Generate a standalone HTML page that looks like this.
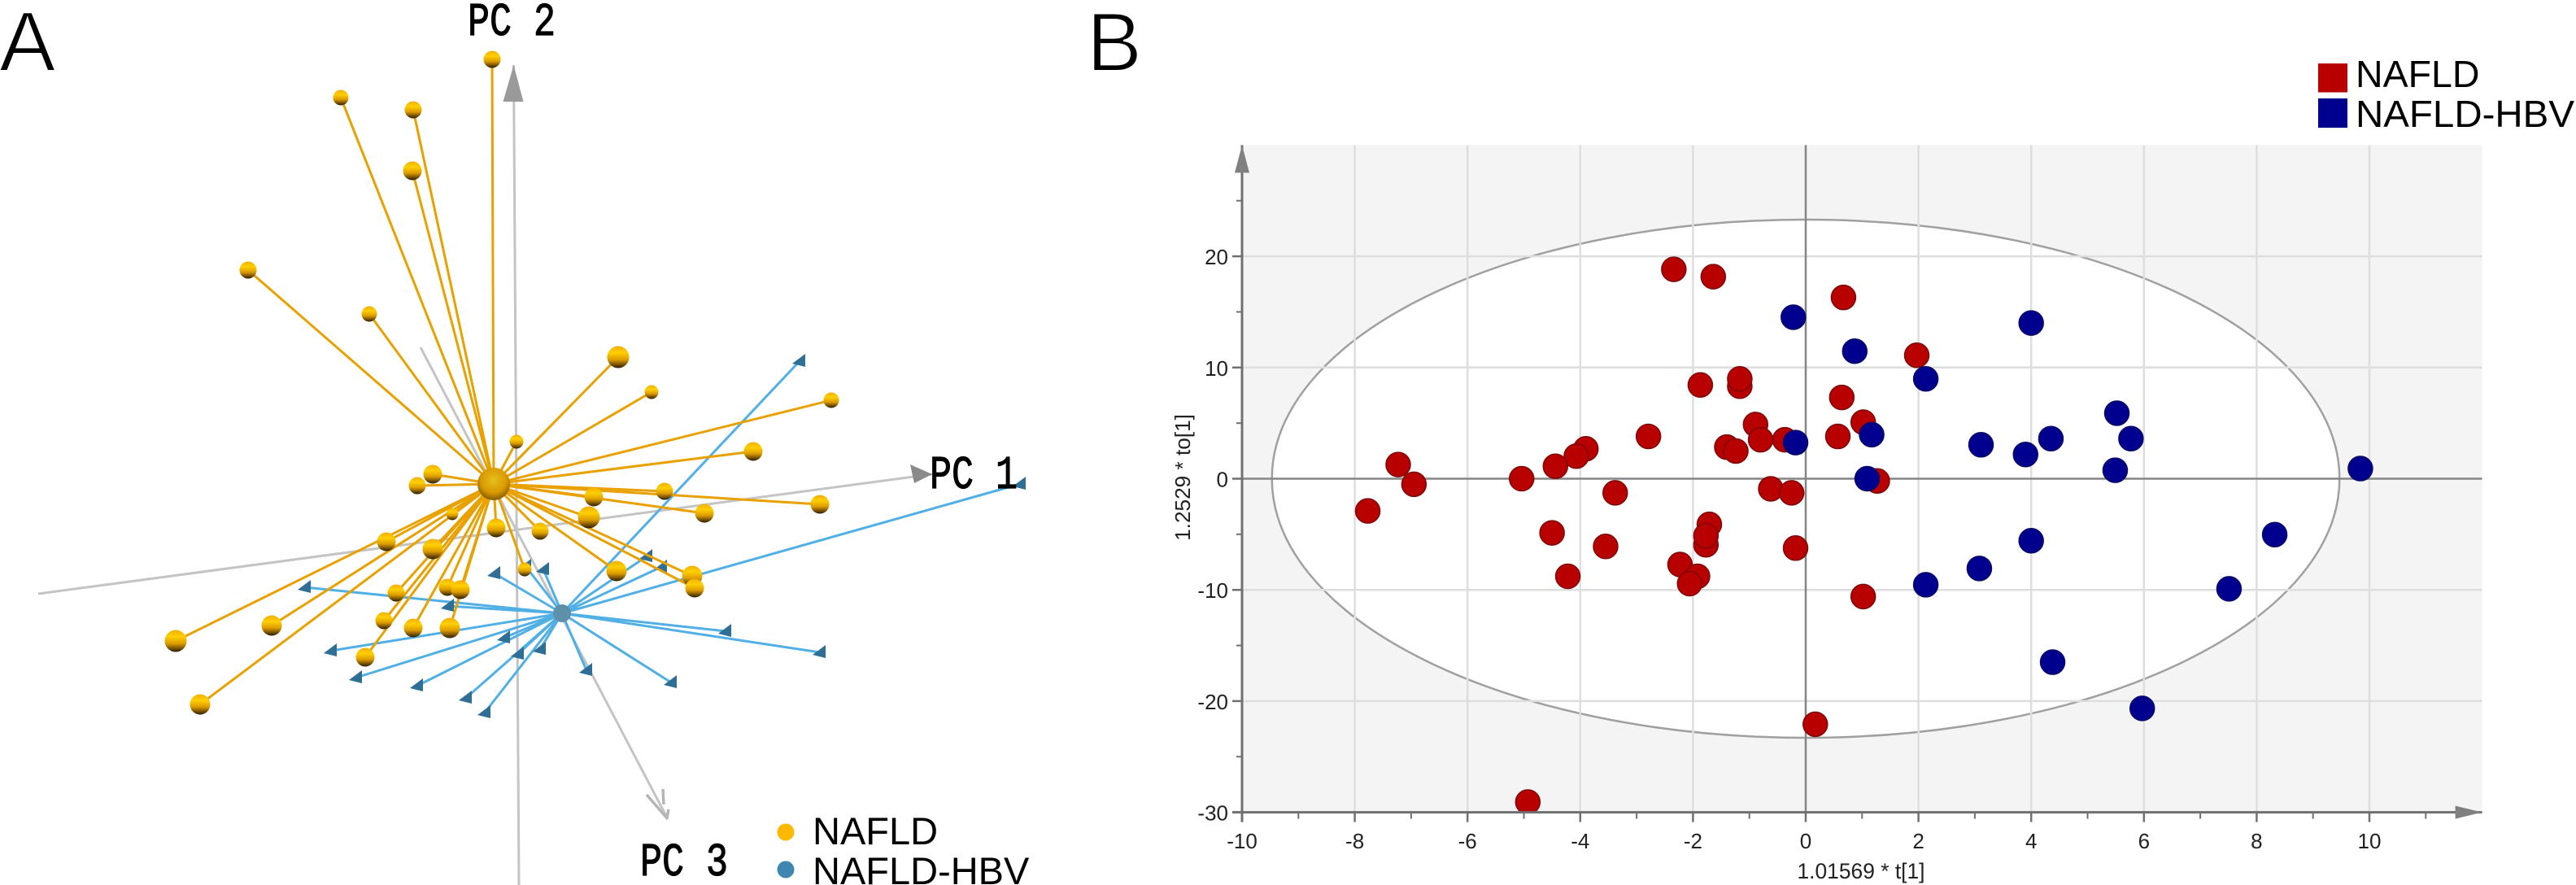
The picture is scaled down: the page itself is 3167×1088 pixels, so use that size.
<!DOCTYPE html>
<html lang="en">
<head>
<meta charset="utf-8">
<title>PCA and OPLS-DA score plots: NAFLD vs NAFLD-HBV</title>
<style>
  html, body { margin: 0; padding: 0; background: #fff; }
  svg { display: block; font-family: "Liberation Sans", sans-serif; }
</style>
</head>
<body>
<svg id="figure" xmlns="http://www.w3.org/2000/svg" width="3167" height="1088" viewBox="0 0 3167 1088">
  <defs>
    <linearGradient id="sphere" x1="0" y1="0" x2="0" y2="1">
      <stop offset="0" stop-color="#f2ae00"/>
      <stop offset="0.3" stop-color="#ffd000"/>
      <stop offset="0.62" stop-color="#dd9c00"/>
      <stop offset="1" stop-color="#2c1c00"/>
    </linearGradient>
    <radialGradient id="centroid" cx="0.5" cy="0.38" r="0.65">
      <stop offset="0" stop-color="#e8be20"/>
      <stop offset="0.6" stop-color="#d99a00"/>
      <stop offset="1" stop-color="#7a5200"/>
    </radialGradient>
    <clipPath id="plot-clip"><rect x="1527" y="179" width="1523" height="819"/></clipPath>
  </defs>

  <text x="-1" y="87" font-size="104" fill="#000" stroke="#fff" stroke-width="2">A</text>
  <text x="1336" y="87" font-size="102" fill="#000" stroke="#fff" stroke-width="2">B</text>

  <g id="panel-a"></g>
  <g id="panel-b"></g>

  <g font-family="'Liberation Mono', monospace" fill="#000" stroke="#000" stroke-width="0.9" font-size="45">
    <text transform="translate(575,43) scale(1,1.27)">PC 2</text>
    <text transform="translate(1143,600) scale(1,1.27)">PC 1</text>
    <text transform="translate(787,1076) scale(1,1.27)">PC 3</text>
  </g>

  <g font-size="47" fill="#000">
    <ellipse cx="966" cy="1023" rx="10.5" ry="10.5" fill="#fdb900"/>
    <text x="999" y="1038">NAFLD</text>
    <ellipse cx="966" cy="1069" rx="10.5" ry="10.5" fill="#3f86b0"/>
    <text x="999" y="1087">NAFLD-HBV</text>
  </g>

  <g font-size="46.5" fill="#000">
    <rect x="2850" y="78" width="36" height="35.5" fill="#b80000"/>
    <text x="2896" y="107">NAFLD</text>
    <rect x="2850" y="121" width="36" height="36" fill="#00008f"/>
    <text x="2896" y="156" textLength="269" lengthAdjust="spacingAndGlyphs">NAFLD-HBV</text>
  </g>
</svg>

<script>
// ---- Panel A: projected PCA scores (projected units) ----
const nafldPc1 = [-0.2,-18.8,-9.9,-10,-30.2,-15.3,15.3,19.4,41.5,2.8,31.9,-7.5,-9.4,21,12.3,40.1,25.9,11.7,0.3,5.7,-5.1,-13.2,-7.5,3.8,15.1,24.4,24.7,-12,-5.7,-4.1,-13.5,-9.9,-5.4,-27.3,-39.1,-15.8,-36.1];
const nafldPc2 = [52.2,47.5,46,38.5,26.3,20.9,15.6,11.3,10.3,5.2,4,1.2,-0.2,-0.9,-1.6,-2.5,-3.6,-4.1,-5.4,-5.8,-3.7,-7.1,-8,-10.5,-10.7,-11.3,-12.8,-13.4,-12.7,-13,-16.8,-17.7,-17.7,-17.4,-19.3,-21.3,-27.1];
const nafldDepth = [0,-1,0,1,0,-1,3,-2,-1,-2,1,1,0,0,1,1,1,3,1,0,-3,1,2,-2,2,2,1,0,0,1,0,1,2,2,3,1,2];
const hbvPc1 = [37.6,64.7,18.8,20.6,6.1,3.9,0.1,-23.2,-5.6,28.5,40.1,-20,1.3,3,5.7,11.4,21.8,-16.9,-9.4,-3.4,-1.1];
const hbvPc2 = [15.1,0,-8.9,-10.2,-10.5,-10.1,-11,-12.7,-15,-18.1,-20.7,-20.5,-18.9,-20.9,-20.3,-22.9,-24.4,-23.8,-24.8,-26.3,-28.1];
const nafldCentroid = [0, 0];
const hbvCentroid = [8.4, -15.9];
const pc1Axis = [[-56, -13.5], [53.9, 1.2]];
const pc2Axis = [[2.45, 51.5], [3.1, -49.3]];
const pc3Axis = [[-9, 16.8], [21.4, -41.2]];

// ---- Panel B: OPLS-DA scores ----
const nafldT = [-2.34,-1.64,0.67,1.97,-1.17,-1.17,-1.87,0.64,-0.89,1.02,-0.8,-0.37,0.57,-2.79,-1.4,-1.24,-3.9,-4.07,-4.44,-7.23,-6.95,-5.04,-7.77,-3.38,-0.62,-0.25,1.27,-1.71,-1.77,-1.77,-4.5,-3.55,-0.18,-4.22,-2.23,-1.92,-2.06,1.02,0.17,-4.93];
const nafldTo = [18.83,18.17,16.3,11.1,8.32,8.98,8.43,7.31,4.87,5.08,3.5,3.5,3.8,3.8,2.84,2.49,2.69,2.03,1.12,1.27,-0.5,0,-2.9,-1.27,-0.91,-1.27,-0.2,-4.11,-5.94,-5.13,-4.87,-6.09,-6.24,-8.78,-7.72,-8.78,-9.44,-10.6,-22.08,-29.08];
const hbvT = [-0.22,4.0,0.87,2.13,5.52,-0.18,1.17,3.11,3.9,4.35,5.77,5.49,9.84,1.09,8.32,4.0,3.08,2.13,7.51,4.38,5.97];
const hbvTo = [14.52,14.0,11.47,8.98,5.89,3.25,3.96,3.05,2.18,3.6,3.6,0.76,0.91,0,-5.03,-5.58,-8.07,-9.54,-9.9,-16.5,-20.66];
const xMajorTicks = [-10,-8,-6,-4,-2,0,2,4,6,8,10];
const xMinorTicks = [-9,-7,-5,-3,-1,1,3,5,7,9,11];
const yMajorTicks = [-30,-20,-10,0,10,20];
const yMinorTicks = [-25,-15,-5,5,15,25];
const ellipseRadii = [9.47, 23.3];

const NS = 'http://www.w3.org/2000/svg';
function add(parent, tag, attrs, text) {
  const el = document.createElementNS(NS, tag);
  for (const k in attrs) el.setAttribute(k, attrs[k]);
  if (text !== undefined) el.textContent = text;
  parent.appendChild(el);
  return el;
}

// Panel A axis functions
const ax = u => 607 + u * 10;
const ay = v => 595 - v * 10;

// Panel B axis functions
const bx = t => 2220 + t * 69.3;
const by = o => 588.5 - o * 13.67;

function drawPanelA() {
  const g = document.getElementById('panel-a');

  const axes = [[pc1Axis, 'pc1-axis'], [pc2Axis, 'pc2-axis'], [pc3Axis, 'pc3-axis']];
  axes.forEach(function (a) {
    const l = add(g, 'line', { x1: ax(a[0][0][0]), y1: ay(a[0][0][1]), x2: ax(a[0][1][0]), y2: ay(a[0][1][1]), stroke: '#c4c4c4', 'stroke-width': 3 });
    
    
  });

  // arrowheads anchored on axis ends
  const p2x = ax(pc2Axis[0][0]), p2y = ay(pc2Axis[0][1]);
  const h2 = add(g, 'path', { d: `M${p2x},${p2y} L${p2x + 12},${p2y + 45} L${p2x - 13},${p2y + 45} Z`, fill: '#9a9a9a' });
  
  
  const p1x = ax(pc1Axis[1][0]), p1y = ay(pc1Axis[1][1]);
  const h1 = add(g, 'path', { d: `M${p1x},${p1y} L${p1x - 27},${p1y - 12} L${p1x - 22},${p1y + 11} Z`, fill: '#8a8a8a' });
  
  
  const p3x = ax(pc3Axis[1][0]), p3y = ay(pc3Axis[1][1]);
  const h3 = add(g, 'path', { d: `M${p3x - 26},${p3y - 30} L${p3x},${p3y} M${p3x - 6},${p3y - 37} L${p3x - 5},${p3y - 18} M${p3x + 1},${p3y - 12} L${p3x - 1},${p3y - 2}`, fill: 'none', stroke: '#b5b5b5', 'stroke-width': 3.5 });
  
  

  const cx2 = ax(hbvCentroid[0]), cy2 = ay(hbvCentroid[1]);
  hbvPc1.forEach(function (u, i) {
    const l = add(g, 'line', { x1: cx2, y1: cy2, x2: ax(u), y2: ay(hbvPc2[i]), stroke: '#50b0e6', 'stroke-width': 3 });
    
    
  });
  hbvPc1.forEach(function (u, i) {
    const x = ax(u), y = ay(hbvPc2[i]);
    const pts = [[x - 9, y + 3], [x + 7, y - 9], [x + 7, y + 7]].map(p => p.join(',')).join(' ');
    const m = add(g, 'polygon', { points: pts, fill: '#2f6f96' });
    
    
  });
  const hc = add(g, 'circle', { cx: cx2, cy: cy2, r: 11, fill: '#5e90aa' });
  
  

  const cx1 = ax(nafldCentroid[0]), cy1 = ay(nafldCentroid[1]);
  nafldPc1.forEach(function (u, i) {
    const l = add(g, 'line', { x1: cx1, y1: cy1, x2: ax(u), y2: ay(nafldPc2[i]), stroke: '#e9a100', 'stroke-width': 3 });
    
    
  });
  nafldPc1.forEach(function (u, i) {
    const m = add(g, 'circle', { cx: ax(u), cy: ay(nafldPc2[i]), r: 10.5 + nafldDepth[i], fill: 'url(#sphere)' });
    
    
  });
  const oc = add(g, 'circle', { cx: cx1, cy: cy1, r: 20, fill: 'url(#centroid)' });
  
  
}

function drawPanelB() {
  const g = document.getElementById('panel-b');
  const left = bx(-10), right = bx(12), top = by(30), bottom = by(-30);

  const bg = add(g, 'rect', { x: left, y: top, width: right - left, height: bottom - top, fill: '#f4f4f4' });
  
  

  const ell = add(g, 'ellipse', { cx: bx(0), cy: by(0), rx: ellipseRadii[0] * 69.3, ry: ellipseRadii[1] * 13.67, fill: '#fff', stroke: '#a0a0a0', 'stroke-width': 2.5 });
  
  

  xMajorTicks.forEach(function (t) {
    if (t === -10 || t === 0) return;
    const l = add(g, 'line', { x1: bx(t), y1: top, x2: bx(t), y2: bottom, stroke: '#dedede', 'stroke-width': 2.5 });
    
    
  });
  yMajorTicks.forEach(function (o) {
    if (o === -30 || o === 0) return;
    const l = add(g, 'line', { x1: left, y1: by(o), x2: right, y2: by(o), stroke: '#dedede', 'stroke-width': 2.5 });
    
    
  });

  const z1 = add(g, 'line', { x1: bx(0), y1: top, x2: bx(0), y2: bottom, stroke: '#858585', 'stroke-width': 2.5 });
  
  
  const z2 = add(g, 'line', { x1: left, y1: by(0), x2: right, y2: by(0), stroke: '#858585', 'stroke-width': 2.5 });
  
  

  const marks = add(g, 'g', { 'clip-path': 'url(#plot-clip)' });
  
  
  nafldT.forEach(function (t, i) {
    const c = add(marks, 'circle', { cx: bx(t), cy: by(nafldTo[i]), r: 15, fill: '#b80000', stroke: '#7d0a0a', 'stroke-width': 1.5 });
    
    
  });
  hbvT.forEach(function (t, i) {
    const c = add(marks, 'circle', { cx: bx(t), cy: by(hbvTo[i]), r: 15, fill: '#00008f', stroke: '#0a0a66', 'stroke-width': 1.5 });
    
    
  });

  const yAxis = add(g, 'line', { x1: left, y1: top, x2: left, y2: bottom + 12, stroke: '#707070', 'stroke-width': 3 });
  
  
  const xAxis = add(g, 'line', { x1: left - 12, y1: bottom, x2: right, y2: bottom, stroke: '#707070', 'stroke-width': 3 });
  
  
  const ya = add(g, 'path', { d: `M${left},${top} L${left + 9},${top + 34} L${left - 9},${top + 34} Z`, fill: '#808080' });
  
  
  const xa = add(g, 'path', { d: `M${right},${bottom} L${right - 33},${bottom - 8} L${right - 33},${bottom + 8} Z`, fill: '#808080' });
  
  

  xMajorTicks.forEach(function (t) {
    const k = add(g, 'line', { x1: bx(t), y1: bottom, x2: bx(t), y2: bottom + 12, stroke: '#707070', 'stroke-width': 2.5 });
    
    
    const lab = add(g, 'text', { x: bx(t), y: 1043, 'text-anchor': 'middle', 'font-size': 26, fill: '#222' }, String(t));
    
    
  });
  xMinorTicks.forEach(function (t) {
    const k = add(g, 'line', { x1: bx(t), y1: bottom, x2: bx(t), y2: bottom + 8, stroke: '#707070', 'stroke-width': 2 });
    
    
  });
  yMajorTicks.forEach(function (o) {
    const k = add(g, 'line', { x1: left - 12, y1: by(o), x2: left, y2: by(o), stroke: '#707070', 'stroke-width': 2.5 });
    
    
    const lab = add(g, 'text', { x: 1510, y: by(o) + 10, 'text-anchor': 'end', 'font-size': 26, fill: '#222' }, String(o));
    
    
  });
  yMinorTicks.forEach(function (o) {
    const k = add(g, 'line', { x1: left - 7, y1: by(o), x2: left, y2: by(o), stroke: '#707070', 'stroke-width': 2 });
    
    
  });

  const xt = add(g, 'text', { x: 2288, y: 1080, 'text-anchor': 'middle', 'font-size': 26.4, fill: '#222' }, '1.01569 * t[1]');
  
  
  const yt = add(g, 'text', { transform: 'translate(1463,587) rotate(-90)', 'text-anchor': 'middle', 'font-size': 26.2, fill: '#222' }, '1.2529 * to[1]');
  
  
}

drawPanelA();
drawPanelB();
</script>
</body>
</html>
